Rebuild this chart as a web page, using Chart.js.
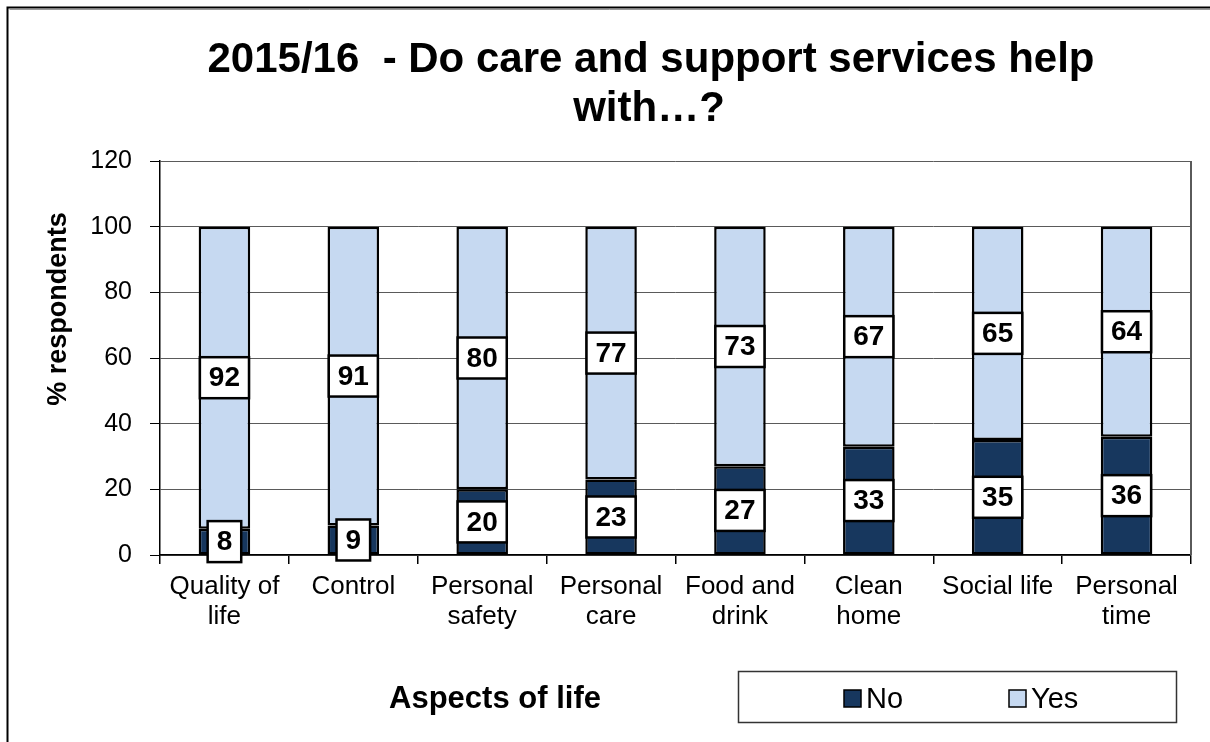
<!DOCTYPE html>
<html>
<head>
<meta charset="utf-8">
<script src="https://cdn.jsdelivr.net/npm/chart.js@4.4.1/dist/chart.umd.min.js"></script>
<style>
  html, body { margin: 0; padding: 0; background: #fff; }
  #wrap { width: 1210px; height: 742px; position: relative; }
</style>
</head>
<body>
<div id="wrap"><canvas id="chart" width="1210" height="742"></canvas></div>
<script>
  var CATEGORIES = [
    ['Quality of', 'life'],
    ['Control'],
    ['Personal', 'safety'],
    ['Personal', 'care'],
    ['Food and', 'drink'],
    ['Clean', 'home'],
    ['Social life'],
    ['Personal', 'time'],
  ];
  var NO_VALUES = [8, 9, 20, 23, 27, 33, 35, 36];
  var YES_VALUES = [92, 91, 80, 77, 73, 67, 65, 64];
  var Y_TICKS = [0, 20, 40, 60, 80, 100, 120];

  var TITLE_LINES = ['2015/16  - Do care and support services help', 'with\u2026?'];
  var FONT = '"Liberation Sans", Arial, sans-serif';
  var NAVY = '#17375e';
  var LIGHT = '#c6d9f1';

  /* ---- frame, titles, legend box and value boxes ---- */
  var decor = {
    id: 'decor',
    afterDraw: function (chart) {
      var ctx = chart.ctx;
      var area = chart.chartArea;
      ctx.save();

      // outer frame (top and left edges)
      ctx.strokeStyle = '#000';
      ctx.lineWidth = 2;
      ctx.beginPath();
      ctx.moveTo(1210, 7.5);
      ctx.lineTo(7.5, 7.5);
      ctx.lineTo(7.5, 742);
      ctx.stroke();
      ctx.strokeStyle = '#9a9a9a';
      ctx.lineWidth = 1;
      ctx.beginPath();
      ctx.moveTo(1210, 9.5);
      ctx.lineTo(9.5, 9.5);
      ctx.stroke();

      // right edge of plot area
      ctx.strokeStyle = '#5a5a5a';
      ctx.lineWidth = 2;
      ctx.beginPath();
      ctx.moveTo(area.right, area.top);
      ctx.lineTo(area.right, area.bottom);
      ctx.stroke();

      // chart title
      ctx.fillStyle = '#000';
      ctx.textAlign = 'center';
      ctx.textBaseline = 'alphabetic';
      ctx.font = 'bold 42px ' + FONT;
      ctx.fillText(TITLE_LINES[0], 651, 72);
      ctx.fillText(TITLE_LINES[1], 649, 121);

      // y axis title
      ctx.save();
      ctx.translate(66, 309);
      ctx.rotate(-Math.PI / 2);
      ctx.font = 'bold 27px ' + FONT;
      ctx.textBaseline = 'alphabetic';
      ctx.fillText('% respondents', 0, 0);
      ctx.restore();

      // x axis title
      ctx.font = 'bold 31px ' + FONT;
      ctx.fillText('Aspects of life', 495, 708);

      // legend
      ctx.strokeStyle = '#333';
      ctx.lineWidth = 1.5;
      ctx.strokeRect(738.5, 671.5, 438, 51);
      ctx.font = '29px ' + FONT;
      ctx.textAlign = 'left';
      var legendX = [844, 1009];
      chart.data.datasets.forEach(function (ds, i) {
        var lx = legendX[i];
        ctx.fillStyle = ds.backgroundColor;
        ctx.fillRect(lx, 690, 17, 17);
        ctx.strokeStyle = '#000';
        ctx.lineWidth = 1.5;
        ctx.strokeRect(lx, 690, 17, 17);
        ctx.fillStyle = '#000';
        ctx.fillText(ds.label, lx + 22, 708);
      });

      // value boxes in the middle of each segment
      ctx.font = 'bold 28px ' + FONT;
      ctx.textAlign = 'center';
      ctx.textBaseline = 'middle';
      chart.data.datasets.forEach(function (ds, i) {
        var meta = chart.getDatasetMeta(i);
        meta.data.forEach(function (bar, j) {
          var txt = String(ds.data[j]);
          var cy = (bar.y + bar.base) / 2;
          var w = ctx.measureText(txt).width + 18;
          var h = 41;
          ctx.fillStyle = '#fff';
          ctx.fillRect(bar.x - w / 2, cy - h / 2, w, h);
          ctx.strokeStyle = '#000';
          ctx.lineWidth = 2.5;
          ctx.strokeRect(bar.x - w / 2, cy - h / 2, w, h);
          ctx.fillStyle = '#000';
          ctx.fillText(txt, bar.x, cy + 1);
        });
      });

      ctx.restore();
    },
  };

  new Chart(document.getElementById('chart'), {
    type: 'bar',
    data: {
      labels: CATEGORIES,
      datasets: [
        {
          label: 'No',
          data: NO_VALUES,
          backgroundColor: NAVY,
          borderColor: '#000',
          borderWidth: 2.5,
          borderSkipped: false,
          barPercentage: 0.4,
          categoryPercentage: 1,
        },
        {
          label: 'Yes',
          data: YES_VALUES,
          backgroundColor: LIGHT,
          borderColor: '#000',
          borderWidth: 2.5,
          borderSkipped: false,
          barPercentage: 0.4,
          categoryPercentage: 1,
        },
      ],
    },
    options: {
      responsive: false,
      animation: false,
      layout: { padding: { top: 161, right: 19, bottom: 0, left: 0 } },
      plugins: {
        legend: { display: false },
        title: { display: false },
        tooltip: { enabled: false },
      },
      scales: {
        x: {
          stacked: true,
          offset: true,
          afterFit: function (scale) { scale.height = 187; },
          grid: {
            offset: true,
            drawOnChartArea: false,
            drawTicks: true,
            tickLength: 9,
            tickColor: '#000',
            lineWidth: 1.5,
          },
          border: { display: true, color: '#000', width: 1.5 },
          ticks: {
            color: '#000',
            padding: 8,
            maxRotation: 0,
            autoSkip: false,
            font: { family: FONT, size: 26, lineHeight: 1.15 },
          },
        },
        y: {
          stacked: true,
          min: 0,
          max: 120,
          afterFit: function (scale) { scale.width = 160; },
          afterBuildTicks: function (scale) {
            scale.ticks = Y_TICKS.map(function (v) { return { value: v }; });
          },
          grid: {
            color: '#5a5a5a',
            lineWidth: 1,
            tickLength: 10,
            tickColor: '#000',
          },
          border: { display: true, color: '#000', width: 1.5 },
          ticks: {
            color: '#000',
            padding: 18,
            font: { family: FONT, size: 25 },
          },
        },
      },
    },
    plugins: [decor],
  });
</script>
</body>
</html>
